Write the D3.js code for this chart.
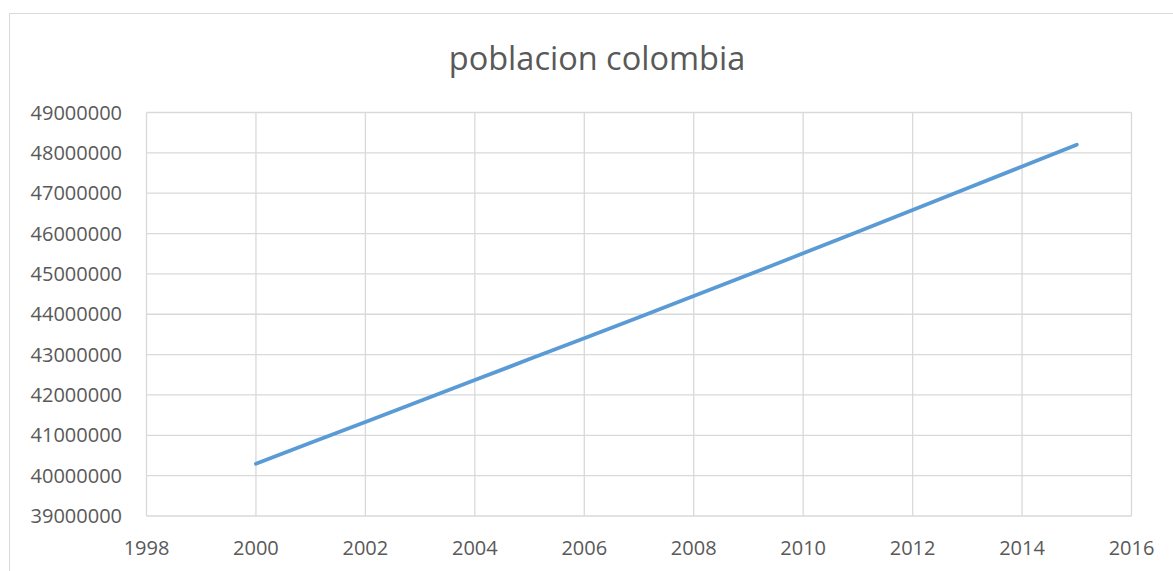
<!DOCTYPE html>
<html><head><meta charset="utf-8">
<script src="https://cdn.jsdelivr.net/npm/d3@7"></script>
<style>body{margin:0;background:#fff;} svg{display:block;}</style>
</head><body>
<svg id="c" width="1173" height="571"></svg>
<script>
const years = [2000,2001,2002,2003,2004,2005,2006,2007,2008,2009,2010,2011,2012,2013,2014,2015];
const population = [40295563,40813541,41328824,41848959,42368489,42888592,43405956,43926929,44451147,44978832,45509584,46044601,46581823,47121089,47661787,48203405];
const xTicks = [1998,2000,2002,2004,2006,2008,2010,2012,2014,2016];
const yTicks = [39000000,40000000,41000000,42000000,43000000,44000000,45000000,46000000,47000000,48000000,49000000];
const title = "poblacion colombia";

const svg = d3.select("#c");
const font = "'Open Sans', 'Liberation Sans', sans-serif";
const L=146.5, R=1131.5, T=112.5, B=516;
svg.append("rect").attr("x",9.5).attr("y",13.5).attr("width",1200).attr("height",600)
  .attr("fill","#fff").attr("stroke","#d9d9d9").attr("stroke-width",1);
const x = d3.scaleLinear().domain([1998,2016]).range([L,R]);
const y = d3.scaleLinear().domain([39000000,49000000]).range([B,T]);

svg.append("g").selectAll("line").data(yTicks).join("line")
  .attr("x1",L).attr("x2",R).attr("y1",d=>y(d)).attr("y2",d=>y(d))
  .attr("stroke","#d9d9d9").attr("stroke-width",1.3);
svg.append("g").selectAll("line").data(xTicks).join("line")
  .attr("y1",T).attr("y2",B).attr("x1",d=>x(d)).attr("x2",d=>x(d))
  .attr("stroke","#d9d9d9").attr("stroke-width",1.3);

svg.append("g").selectAll("text").data(yTicks).join("text")
  .attr("x",122).attr("y",d=>y(d)).attr("dy","0.35em").attr("text-anchor","end")
  .attr("font-family",font).attr("font-size",20).attr("fill","#595959").text(d=>d);
svg.append("g").selectAll("text").data(xTicks).join("text")
  .attr("x",d=>x(d)).attr("y",555).attr("text-anchor","middle")
  .attr("font-family",font).attr("font-size",20).attr("fill","#595959").text(d=>d);

svg.append("text").attr("x",597).attr("y",70).attr("text-anchor","middle")
  .attr("font-family",font).attr("font-size",32.5).attr("fill","#595959").text(title);

const line = d3.line().x((d,i)=>x(years[i])).y(d=>y(d));
svg.append("path").datum(population).attr("d",line).attr("fill","none")
  .attr("stroke","#5b9bd5").attr("stroke-width",3.8).attr("stroke-linecap","round");
</script>
</body></html>
